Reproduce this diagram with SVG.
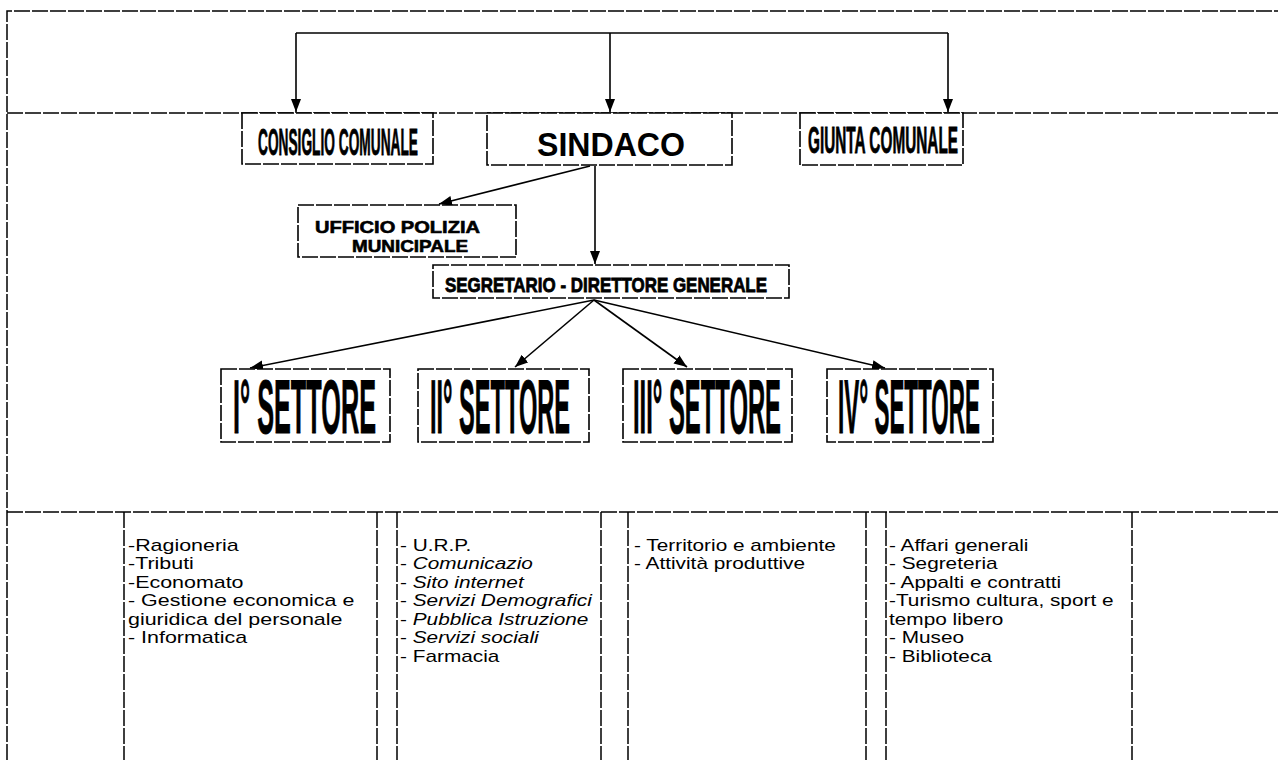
<svg xmlns="http://www.w3.org/2000/svg" width="1278" height="760" viewBox="0 0 1278 760">
<style>
.frame{fill:none;stroke:#000;stroke-width:1.5;stroke-dasharray:16 2}
.box{fill:#fff;stroke:#000;stroke-width:1.6;stroke-dasharray:16 2}
.conn{fill:none;stroke:#000;stroke-width:1.6}
.cond{font-family:'Liberation Sans Narrow','Liberation Sans',Arial,sans-serif;font-weight:bold;fill:#000;stroke:#000;stroke-width:0.8}
.ar{font-family:'Liberation Sans',Arial,sans-serif;font-weight:bold;fill:#000}
.list{font-family:'Liberation Sans',Arial,sans-serif;font-size:16px;fill:#000}
.it{font-style:italic}
</style>
<defs>
<marker id="arr" markerUnits="userSpaceOnUse" markerWidth="14" markerHeight="12" refX="13" refY="5" orient="auto">
<path d="M0,0 L13,5 L0,10 z" fill="#000"/>
</marker>
</defs>
<rect width="1278" height="760" fill="#fff"/>
<g id="frame">
<path class="frame" d="M7,760 V11 H1278"/>
<path class="frame" d="M7,113 H1278"/>
<path class="frame" d="M7,512 H1278"/>
</g>
<g id="connectors">
<path class="conn" d="M296,33 H948"/>
<path class="conn" d="M296,33 V112" marker-end="url(#arr)"/>
<path class="conn" d="M610,33 V112" marker-end="url(#arr)"/>
<path class="conn" d="M948,33 V112" marker-end="url(#arr)"/>
<path class="conn" d="M590,166 L439,204" marker-end="url(#arr)"/>
<path class="conn" d="M595,166 V264" marker-end="url(#arr)"/>
<path class="conn" d="M594,300 L250,368" marker-end="url(#arr)"/>
<path class="conn" d="M594,300 L515,367" marker-end="url(#arr)"/>
<path class="conn" d="M594,300 L687,367" marker-end="url(#arr)"/>
<path class="conn" d="M594,300 L885,368" marker-end="url(#arr)"/>
</g>
<g id="consiglio">
<rect class="box" x="242" y="113" width="191" height="51"/>
<text class="cond" x="258" y="155" font-size="36" textLength="160" lengthAdjust="spacingAndGlyphs">CONSIGLIO COMUNALE</text>
</g>
<g id="sindaco">
<rect class="box" x="487" y="113" width="245" height="52"/>
<text class="ar" x="537" y="156" font-size="33" textLength="148" lengthAdjust="spacingAndGlyphs">SINDACO</text>
</g>
<g id="giunta">
<rect class="box" x="800" y="113" width="163" height="52"/>
<text class="cond" x="808" y="153" font-size="36" textLength="150" lengthAdjust="spacingAndGlyphs">GIUNTA COMUNALE</text>
</g>
<g id="polizia">
<rect class="box" x="298" y="205" width="218" height="52"/>
<text class="ar" x="315" y="233" font-size="17" textLength="165" lengthAdjust="spacingAndGlyphs" stroke="#000" stroke-width="0.6">UFFICIO POLIZIA</text>
<text class="ar" x="352" y="252" font-size="17" textLength="116" lengthAdjust="spacingAndGlyphs" stroke="#000" stroke-width="0.6">MUNICIPALE</text>
</g>
<g id="segretario">
<rect class="box" x="433" y="265" width="356" height="33"/>
<text class="cond" x="445" y="292" font-size="20" textLength="322" lengthAdjust="spacingAndGlyphs">SEGRETARIO - DIRETTORE GENERALE</text>
</g>
<g id="settore1">
<rect class="box" x="221" y="369" width="169" height="73"/>
<text class="cond" x="233" y="433" font-size="76" textLength="143" lengthAdjust="spacingAndGlyphs">I° SETTORE</text>
</g>
<g id="settore2">
<rect class="box" x="418" y="369" width="171" height="73"/>
<text class="cond" x="430" y="433" font-size="76" textLength="140" lengthAdjust="spacingAndGlyphs">II° SETTORE</text>
</g>
<g id="settore3">
<rect class="box" x="623" y="369" width="169" height="73"/>
<text class="cond" x="633" y="433" font-size="76" textLength="148" lengthAdjust="spacingAndGlyphs">III° SETTORE</text>
</g>
<g id="settore4">
<rect class="box" x="827" y="369" width="166" height="73"/>
<text class="cond" x="838" y="433" font-size="76" textLength="142" lengthAdjust="spacingAndGlyphs">IV° SETTORE</text>
</g>
<g id="lista1">
<path class="frame" d="M124,512 V760 M377,512 V760"/>
<g transform="translate(128,0) scale(1.34,1)" class="list">
<text x="0" y="551">-Ragioneria</text>
<text x="0" y="569.5">-Tributi</text>
<text x="0" y="588">-Economato</text>
<text x="0" y="606.5">- Gestione  economica e</text>
<text x="0" y="625">giuridica del personale</text>
<text x="0" y="643.5">- Informatica</text>
</g>
</g>
<g id="lista2">
<path class="frame" d="M397,512 V760 M601,512 V760"/>
<g transform="translate(400,0) scale(1.3,1)" class="list">
<text x="0" y="551">- U.R.P.</text>
<text x="0" y="569.5">- <tspan class="it">Comunicazio</tspan></text>
<text x="0" y="588">- <tspan class="it">Sito internet</tspan></text>
<text x="0" y="606.5">- <tspan class="it">Servizi Demografici</tspan></text>
<text x="0" y="625">- <tspan class="it">Pubblica Istruzione</tspan></text>
<text x="0" y="643.5">- <tspan class="it">Servizi sociali</tspan></text>
<text x="0" y="662">- Farmacia</text>
</g>
</g>
<g id="lista3">
<path class="frame" d="M628,512 V760 M866,512 V760"/>
<g transform="translate(634,0) scale(1.3,1)" class="list">
<text x="0" y="551">- Territorio e ambiente</text>
<text x="0" y="569.5">- Attività  produttive</text>
</g>
</g>
<g id="lista4">
<path class="frame" d="M886,512 V760 M1132,512 V760"/>
<g transform="translate(889,0) scale(1.3,1)" class="list">
<text x="0" y="551">- Affari generali</text>
<text x="0" y="569.5">- Segreteria</text>
<text x="0" y="588">- Appalti e contratti</text>
<text x="0" y="606.5">-Turismo cultura, sport e</text>
<text x="0" y="625">tempo libero</text>
<text x="0" y="643.5">- Museo</text>
<text x="0" y="662">- Biblioteca</text>
</g>
</g>
</svg>
